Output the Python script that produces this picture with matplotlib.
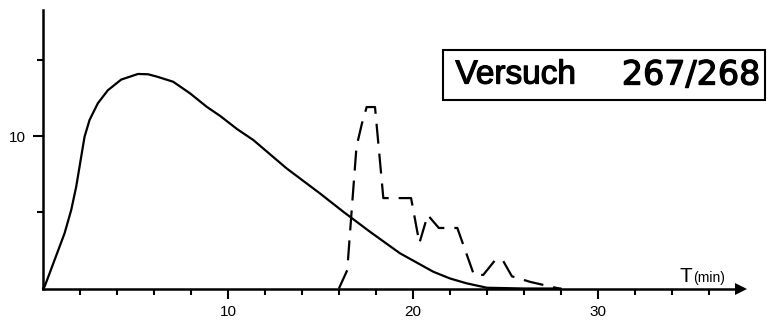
import matplotlib
matplotlib.use("Agg")
import matplotlib.pyplot as plt
import matplotlib.patheffects as pe
from matplotlib.ticker import FixedLocator, NullFormatter, FixedFormatter

# Solid curve (time in minutes, value)
t_solid = [0, 0.09, 0.63, 1.17, 1.53, 1.8, 2.04, 2.25, 2.52, 2.97, 3.51, 4.23,
           5.14, 5.68, 6.15, 7.04, 7.95, 8.85, 9.6, 10.5, 11.37, 13.17, 14.97,
           16.23, 17.68, 19.3, 21.1, 22.0, 22.9, 24.0, 26.0, 28.0]
v_solid = [0, 0.12, 1.87, 3.62, 5.15, 6.68, 8.43, 9.95, 11.05, 12.15, 13.0, 13.7,
           14.07, 14.05, 13.9, 13.56, 12.8, 11.92, 11.3, 10.45, 9.74, 7.88, 6.24,
           5.04, 3.72, 2.31, 1.1, 0.66, 0.34, 0.05, 0.0, 0.0]

# Dashed curve (time in minutes, value)
t_dash = [16.0, 16.45, 16.7, 16.95, 17.25, 17.5, 17.95, 18.2, 18.4, 19.9, 20.35, 20.8,
          21.4, 22.4, 23.3, 23.8, 24.45, 24.85, 25.35, 26.35, 27.9]
v_dash = [0.0, 1.2, 5.3, 9.3, 10.85, 11.9, 11.9, 8.6, 5.93, 5.93, 2.98, 4.82,
          3.97, 3.97, 0.89, 0.89, 1.87, 1.87, 0.8, 0.43, 0.0]

x_major = [10, 20, 30]
x_major_labels = ["10", "20", "30"]
x_minor = [2, 4, 6, 8, 12, 14, 16, 18, 22, 24, 26, 28, 32, 34, 36]
y_major = [10]
y_major_labels = ["10"]
y_minor = [5, 15]

title_left = "Versuch"
title_right = "267/268"
x_label_main = "T"
x_label_unit = "(min)"

fig = plt.figure(figsize=(7.77, 3.28), dpi=100)
ax = fig.add_axes([0, 0, 1, 1])
ax.set_xlim(-2.32, 39.68)
ax.set_ylim(-2.59, 18.92)

lw = 1.6
ax.plot(t_solid, v_solid, color="black", lw=lw, solid_capstyle="round",
        solid_joinstyle="round")
ax.plot(t_dash, v_dash, color="black", lw=lw, dashes=(9, 4.5))

for side in ("top", "right"):
    ax.spines[side].set_visible(False)
ax.spines["left"].set_position(("data", 0))
ax.spines["bottom"].set_position(("data", 0))
ax.spines["left"].set_bounds(0, 18.26)
ax.spines["bottom"].set_bounds(0, 37.6)
for side in ("left", "bottom"):
    ax.spines[side].set_linewidth(1.8)

# arrow head on the time axis
ax.plot([37.75], [0], marker=">", ms=9, color="black", clip_on=False,
        markeredgewidth=0)

ax.xaxis.set_major_locator(FixedLocator(x_major))
ax.xaxis.set_major_formatter(FixedFormatter(x_major_labels))
ax.xaxis.set_minor_locator(FixedLocator(x_minor))
ax.xaxis.set_minor_formatter(NullFormatter())
ax.yaxis.set_major_locator(FixedLocator(y_major))
ax.yaxis.set_major_formatter(FixedFormatter(y_major_labels))
ax.yaxis.set_minor_locator(FixedLocator(y_minor))
ax.yaxis.set_minor_formatter(NullFormatter())

ax.tick_params(axis="both", which="major", direction="out", length=7, width=1.5,
               labelsize=11)
ax.tick_params(axis="x", which="major", pad=5)
ax.tick_params(axis="y", which="major", pad=5)
ax.tick_params(axis="both", which="minor", direction="out", length=4.5, width=1.5)
for lab in ax.get_xticklabels() + ax.get_yticklabels():
    lab.set_fontfamily("Liberation Sans")

thick = [pe.withStroke(linewidth=0.9, foreground="black")]
ax.text(22.3, 14.0, title_left, fontsize=24, family="Liberation Sans",
        ha="left", va="center", path_effects=thick)
ax.text(38.8, 14.0, title_right, fontsize=24, family="DejaVu Sans",
        ha="right", va="center", path_effects=thick)
ax.add_patch(plt.Rectangle((21.62, 12.36), 17.4, 3.27, fill=False,
                           lw=1.5, edgecolor="black", clip_on=False))

ax.text(34.4, 0.45, x_label_main, fontsize=15, family="Liberation Sans",
        ha="left", va="baseline")
ax.text(35.15, 0.4, x_label_unit, fontsize=10, family="Liberation Sans",
        ha="left", va="baseline")

fig.savefig("out.png", dpi=100)
